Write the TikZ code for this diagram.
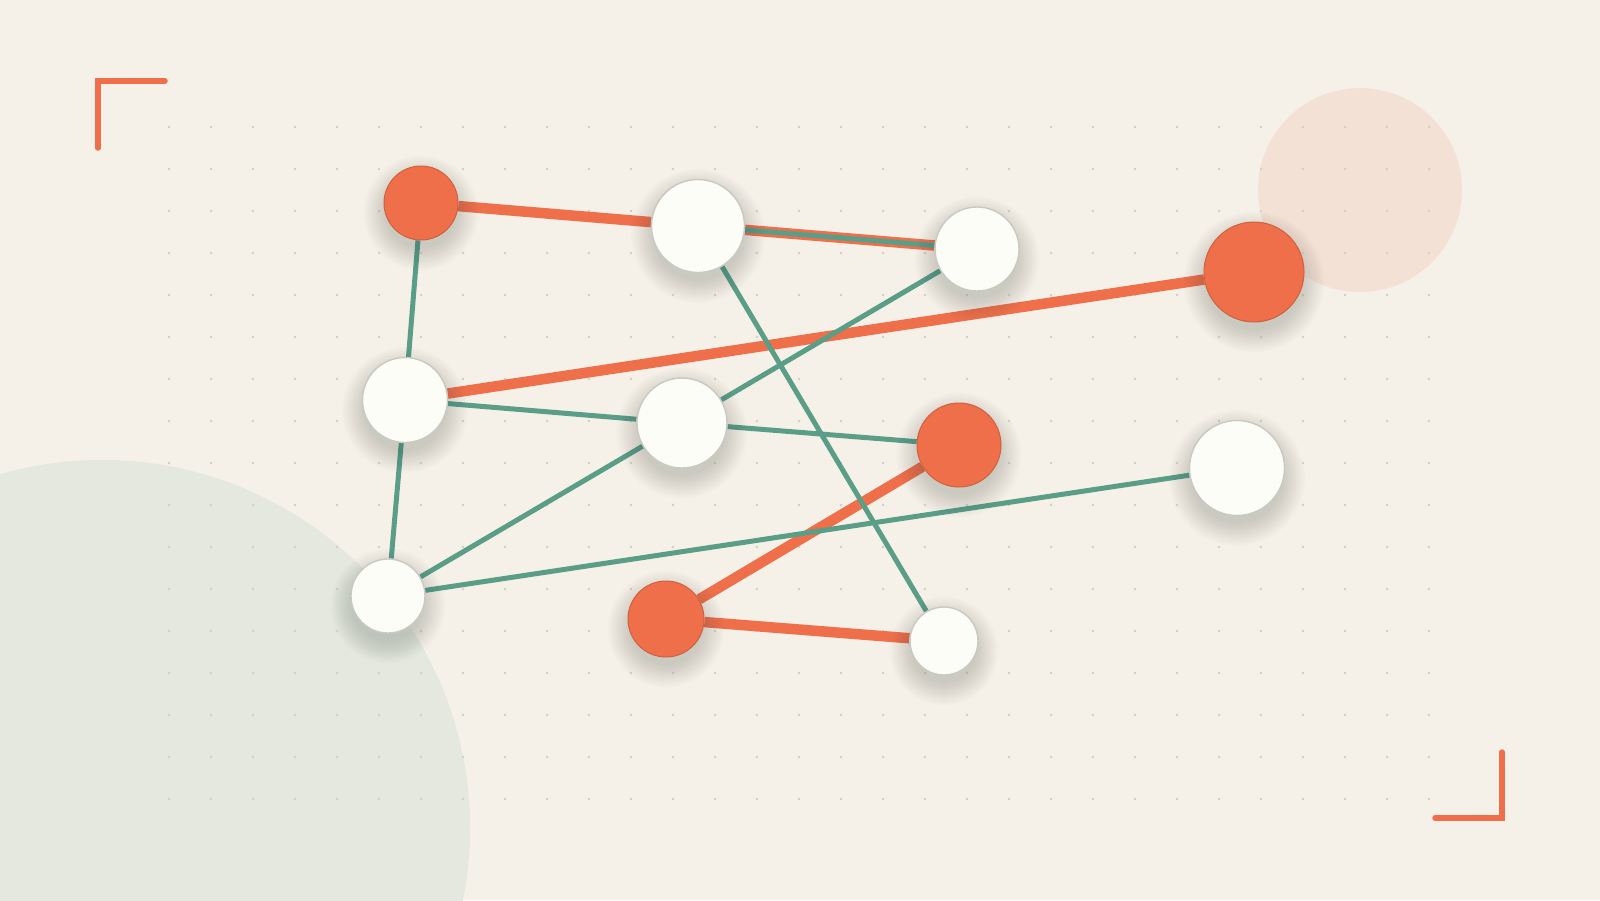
\documentclass[tikz,border=0pt]{standalone}

\definecolor{paper}{HTML}{F5F0E8}
\definecolor{peach}{HTML}{F3E1D6}
\definecolor{sage}{HTML}{E4E8DE}
\definecolor{coral}{HTML}{EE6F4A}
\definecolor{coralline}{HTML}{CF613F}
\definecolor{sea}{HTML}{5A9E88}
\definecolor{pearl}{HTML}{FDFDF8}
\definecolor{pearlline}{HTML}{C8CAC2}
\definecolor{dotc}{HTML}{D3CEC3}
\definecolor{shade}{HTML}{4A5548}

\pgfdeclarelayer{back}
\pgfdeclarelayer{edges}
\pgfsetlayers{back,edges,main}

\begin{document}
\begin{tikzpicture}[x=1pt, y=-1pt,
    hub/.style={circle, inner sep=0pt, line width=1.4pt, draw=pearlline, fill=pearl},
    hot/.style={hub, draw=coralline, fill=coral, line width=1pt},
    halo/.style={fill=shade, opacity=0.014},
    link/.style={draw=sea, line width=5pt},
    heavy/.style={draw=coral, line width=10.5pt},
    bracket/.style={draw=coral, line width=5.5pt, line cap=round}]

    \useasboundingbox (0,0) rectangle (1600,900);

    \begin{pgfonlayer}{back}
        \fill[paper] (0,0) rectangle (1600,900);
        \fill[sage] (102,828) circle (368);
        \fill[peach] (1360,190) circle (102);
        \foreach \i in {0,...,30}
            \foreach \j in {0,...,16}
                \fill[dotc] (169+42*\i, 127+42*\j) circle (1.3);
        \draw[bracket] (98,148) -- (98,81) -- (165,81);
        \draw[bracket] (1435,818) -- (1502,818) -- (1502,752);
    \end{pgfonlayer}

    % hubs: orange r*, white w*
    \foreach \n/\x/\y/\r/\s in {
        r1/421/203/37/hot, r2/1254/272/50/hot, r3/959/445/42/hot, r4/666/619/38/hot,
        w1/698/226/46.5/hub, w2/977/249/42/hub, w3/405/400/42.5/hub, w4/682/423/45/hub,
        w5/1237/468/47.5/hub, w6/388/596/37/hub, w7/944/641/34/hub} {
        \foreach \k in {1,...,14}
            \fill[halo] (\x,\y+10) circle (\r+22-1.7*\k);
        \node[\s, minimum size=2*\r] (\n) at (\x,\y) {};
    }

    \begin{pgfonlayer}{edges}
        \draw[heavy]
            (r1) edge (w1)
            (w1) edge (w2)
            (w3) edge (r2)
            (r3) edge (r4)
            (r4) edge (w7);
        \draw[link]
            (w1) edge (w2)
            (r1) edge (w3)
            (w3) edge (w6)
            (w3) edge (w4)
            (w4) edge (r3)
            (w4) edge (w2)
            (w6) edge (w4)
            (w6) edge (w5)
            (w1) edge (w7);
    \end{pgfonlayer}
\end{tikzpicture}
\end{document}
